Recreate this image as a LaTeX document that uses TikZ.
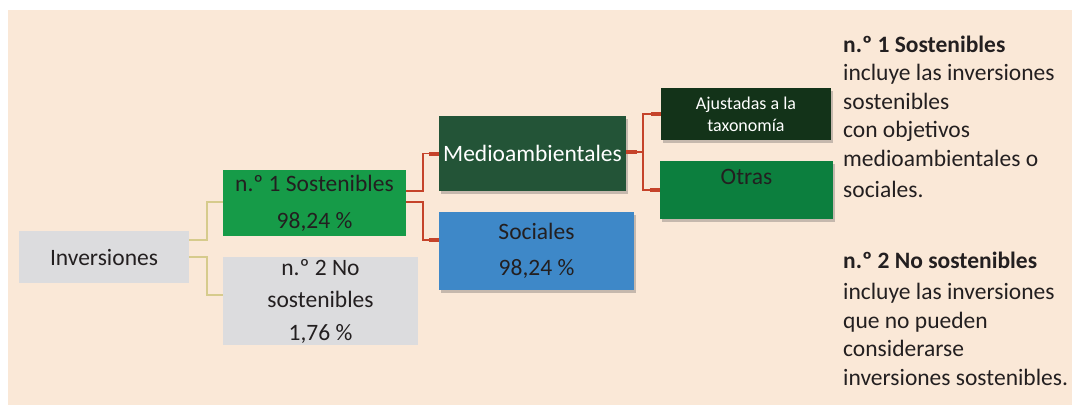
\documentclass[tikz,border=0pt]{standalone}
\usepackage{fontspec}
\setmainfont{Carlito}
\usetikzlibrary{shadows}
\definecolor{bgc}{HTML}{FAE8D7}
\definecolor{boxgray}{HTML}{DCDCDE}
\definecolor{gone}{HTML}{169B48}
\definecolor{medc}{HTML}{235437}
\definecolor{socc}{HTML}{3E88C8}
\definecolor{ajuc}{HTML}{133319}
\definecolor{otrc}{HTML}{0C7F3E}
\definecolor{redc}{HTML}{C5432A}
\definecolor{khaki}{HTML}{D6CB8C}
\definecolor{txt}{HTML}{231F20}
\begin{document}
\begin{tikzpicture}[x=1pt,y=1pt,
  box/.style={rectangle, inner sep=0pt, align=center, text=txt, font=\fontsize{23.5}{37}\selectfont},
  shad/.style={drop shadow={shadow xshift=2pt, shadow yshift=-3pt, opacity=0.3, fill=black!70}},
  kline/.style={draw=khaki, line width=1.6pt},
  rline/.style={draw=redc, line width=1.8pt},
  stub/.style={draw=redc, line width=4pt},
  side/.style={anchor=base west, align=left, inner sep=0pt, text=txt, font=\fontsize{23.5}{28.5}\selectfont}]
\useasboundingbox (0,0) rectangle (1072,-405);
\fill[bgc] (8,-10) rectangle (1072,-405);

\node[box, fill=boxgray, minimum width=170pt, minimum height=52pt] (inv) at (104,-257) {Inversiones};
\node[box, fill=gone, minimum width=183pt, minimum height=66pt] (n1) at (314.5,-203) {n.º 1 Sostenibles\\98,24 \%};
\node[box, fill=boxgray, minimum width=195pt, minimum height=88pt, font=\fontsize{23.5}{32.5}\selectfont] (n2) at (320.5,-301) {n.º 2 No\\sostenibles\\1,76 \%};
\node[box, shad, fill=medc, text=white, minimum width=187pt, minimum height=75pt] (med) at (532.5,-153.5) {Medioambientales};
\node[box, shad, fill=socc, minimum width=195pt, minimum height=78pt, font=\fontsize{23.5}{36}\selectfont] (soc) at (536.5,-251) {Sociales\\98,24 \%};
\node[box, shad, fill=ajuc, text=white, minimum width=170pt, minimum height=52pt, font=\fontsize{18}{22}\selectfont] (aju) at (746,-114) {Ajustadas a la\\taxonomía};
\node[box, shad, fill=otrc, minimum width=173pt, minimum height=58pt, text height=10pt, text depth=21pt] (otr) at (746.5,-190) {Otras};

\draw[kline] ([yshift=17pt]inv.east) -- ++(18,0) |- ([yshift=1pt]n1.west);
\draw[kline] (inv.east) -- ++(18,0) |- ([yshift=6pt]n2.west);

\draw[rline] ([yshift=12pt]n1.east) -- ++(16.5,0) |- (med.west);
\draw[rline] ([yshift=1pt]n1.east) -- ++(16.5,0) |- ([yshift=11pt]soc.west);
\draw[rline] ([yshift=1.5pt]med.east) -- ++(17,0) |- (aju.west);
\draw[rline] ([yshift=1.5pt]med.east) -- ++(17,0) |- (otr.west);

\draw[stub] ([xshift=-10pt]med.west) -- (med.west);
\draw[stub] ([xshift=-10pt,yshift=11pt]soc.west) -- ([yshift=11pt]soc.west);
\draw[stub] ([xshift=-10pt]aju.west) -- (aju.west);
\draw[stub] ([xshift=-10pt]otr.west) -- (otr.west);
\draw[stub] ([yshift=1.5pt]med.east) -- ++(11,0);

\node[side] (t1) at (843,-197) {\textbf{n.º 1 Sostenibles}\\incluye las inversiones\\sostenibles\\con objetivos\\medioambientales o\\[2.5pt]sociales.};
\node[side] (t2) at (843,-385) {\textbf{n.º 2 No sostenibles}\\[2.5pt]incluye las inversiones\\que no pueden\\considerarse\\inversiones sostenibles.};
\end{tikzpicture}
\end{document}
